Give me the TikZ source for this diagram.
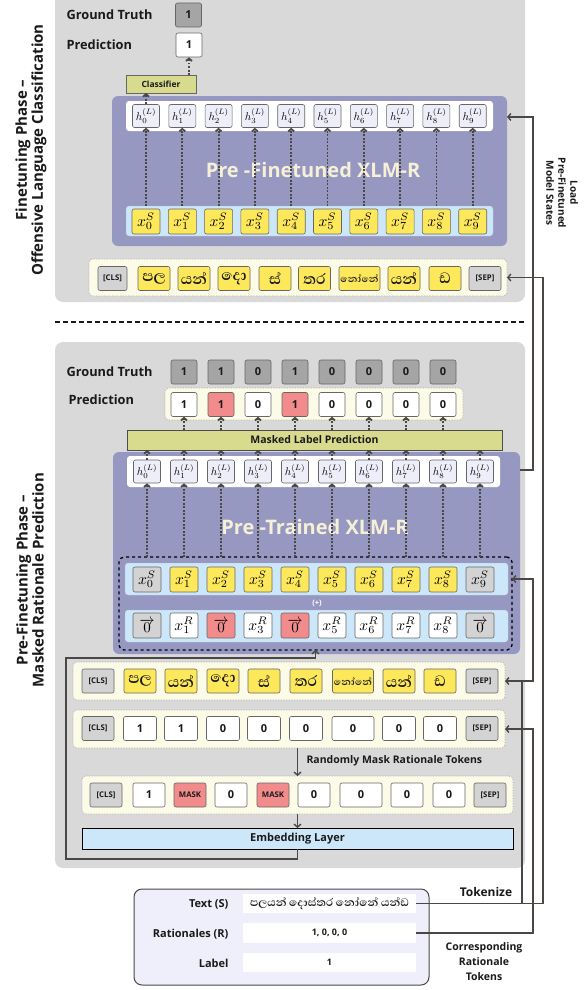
\documentclass[tikz,border=0pt]{standalone}
\usepackage{fontspec}
\setmainfont{Open Sans}
\newfontfamily\sinhalafont[Script=Sinhala]{Abhaya Libre}
\usetikzlibrary{arrows.meta,fit}

\definecolor{panel}{HTML}{D9D9D9}
\definecolor{xlmr}{HTML}{9698C2}
\definecolor{titletxt}{HTML}{F5F0D6}
\definecolor{hfill}{HTML}{EEEEFA}
\definecolor{embblue}{HTML}{CCE7F9}
\definecolor{tokyellow}{HTML}{FDE85C}
\definecolor{tokgray}{HTML}{D3D3D3}
\definecolor{tokred}{HTML}{F28C8C}
\definecolor{olive}{HTML}{D8DB8E}
\definecolor{cream}{HTML}{FCFBE7}
\definecolor{gtgray}{HTML}{A5A5A5}
\definecolor{wire}{HTML}{4A4744}
\definecolor{inputbg}{HTML}{EFEFFB}
\definecolor{ink}{HTML}{1A1A1A}

% hidden states, sentence embeddings and rationale embeddings
\newcommand\hstate[1]{\scalebox{1.12}{$h_{#1}^{(L)}$}}
\newcommand\xsent[1]{\scalebox{1.55}{$x_{#1}^{S}$}}
\newcommand\xrat[1]{\scalebox{1.55}{$x_{#1}^{R}$}}
\newcommand\zerovec{\scalebox{1.5}{$\overrightarrow{0}$}}

\tikzset{
  region/.style={inner sep=0pt, outer sep=0pt, fit={#1}},
  cell/.style={inner sep=0pt, rounded corners=2pt, draw=black!60, line width=0.6pt},
  tok/.style={cell, minimum width=32pt, minimum height=24pt, font=\bfseries\fontsize{11}{11}\selectfont, text=ink},
  spec/.style={tok, fill=tokgray, font=\bfseries\fontsize{7.8}{7.8}\selectfont},
  sin/.style={tok, fill=tokyellow, font=\sinhalafont\bfseries\fontsize{19}{19}\selectfont},
  sinwide/.style={sin, minimum width=41pt, font=\sinhalafont\bfseries\fontsize{12.5}{12.5}\selectfont},
  numtok/.style={tok, fill=white},
  masktok/.style={tok, fill=tokred, font=\bfseries\fontsize{7.8}{7.8}\selectfont},
  hid/.style={cell, fill=hfill, minimum width=27pt, minimum height=23pt, font=\fontsize{10}{10}\selectfont},
  emb/.style={cell, minimum width=28pt, minimum height=25pt, font=\fontsize{10}{10}\selectfont},
  tray/.style={inner sep=0pt, outer sep=0pt, fill=cream, draw=black!35, densely dotted, line width=0.6pt, rounded corners=4pt},
  band/.style={inner sep=0pt, outer sep=0pt, fill=embblue, draw=black!25, densely dotted, line width=0.5pt, rounded corners=3pt},
  head/.style={font=\bfseries\fontsize{12.8}{13}\selectfont, text=ink},
  fieldlab/.style={font=\bfseries\fontsize{11}{11}\selectfont, text=ink, anchor=east},
  boxtext/.style={font=\bfseries\fontsize{10.5}{11}\selectfont, text=ink},
  modeltitle/.style={font=\bfseries\fontsize{20}{20}\selectfont, text=titletxt},
  phase/.style={font=\bfseries\fontsize{15}{16}\selectfont, text=ink, align=center, rotate=90},
  wire/.style={draw=wire, line width=1.4pt},
  arr/.style={wire, -{Straight Barb[length=3pt,width=7pt]}},
  dotarr/.style={draw=wire, line width=1.8pt, dash pattern=on 1.8pt off 1.7pt, -{Straight Barb[length=2.5pt,width=6pt]}},
  note/.style={font=\bfseries\fontsize{10.5}{15}\selectfont, text=ink, align=center},
}

\begin{document}
\begin{tikzpicture}[x=1pt,y=-1pt]
\useasboundingbox (0,0) rectangle (584,990);
\fill[white] (0,0) rectangle (584,990);

% ================= Finetuning phase =================
\node[region={(55,-20) (525,302)}, fill=panel, rounded corners=8pt] (ftpanel) {};
\node[phase] (ftlabel) at (31,150) {Finetuning Phase –\\Offensive Language Classification};

\node[head, anchor=west] (gtlabA) at (63,15) {Ground Truth};
\node[tok, fill=gtgray, minimum width=26pt] (gtA) at (188.5,15) {1};
\node[head, anchor=west] (predlabA) at (63,45) {Prediction};
\node[tok, fill=white, minimum width=26pt] (predA) at (189,45) {1};
\node[region={(126,75) (196,93)}, fill=olive, draw=black!60, line width=0.6pt] (clf) {};
\node[font=\bfseries\fontsize{8.5}{9}\selectfont, text=ink] (clftext) at (clf.center) {Classifier};

\node[region={(112,96) (507,246)}, fill=xlmr, rounded corners=6pt] (xlmrA) {};
\node[region={(126,101) (493,131)}, fill=white, rounded corners=3pt] (hrowA) {};
\node[region={(126,206) (493,236)}, band] (xrowA) {};
\node[modeltitle] (titleA) at (313,170) {Pre -Finetuned XLM-R};
\foreach \i in {0,...,9}{
  \node[hid] (hA\i) at ({146+36.3*\i},116) {\hstate{\i}};
  \node[emb, fill=tokyellow] (xA\i) at ({146+36.3*\i},221.5) {\xsent{\i}};
  \draw[dotarr] (xrowA.north -| xA\i) -- (hA\i.south);
}
\draw[dotarr] (hA0.north) -- (clf.south -| hA0);
\draw[dotarr] (clf.north -| predA) -- (predA.south);

% tokenised sentence feeding the classifier
\node[region={(89,259) (507,296)}, tray] (sinrowA) {};
\node[spec, minimum width=29pt] (sA0) at (112.5,278.5) {[CLS]};
\node[sin] (sA1) at (154,278.5) {පල};
\node[sin] (sA2) at (194,278.5) {යන්};
\node[sin] (sA3) at (234,278.5) {දො};
\node[sin] (sA4) at (275,278.5) {ස්};
\node[sin] (sA5) at (314.5,278.5) {තර};
\node[sinwide] (sA6) at (359.5,278.5) {නෝනේ};
\node[sin] (sA7) at (404,278.5) {යන්};
\node[sin] (sA8) at (445,278.5) {ඩ};
\node[spec] (sA9) at (485,278.5) {[SEP]};

% phase separator
\coordinate (sepL) at (55,322);
\coordinate (sepR) at (525,322);
\draw[ink, line width=1.3pt, dash pattern=on 5pt off 3pt] (sepL) -- (sepR);

% ================= Pre-finetuning phase =================
\node[region={(55,342) (525,868)}, fill=panel, rounded corners=8pt] (pfpanel) {};
\node[phase] (pflabel) at (30,580) {Pre-Finetuning Phase –\\Masked Rationale Prediction};

\node[head, anchor=west] (gtlabB) at (63,372) {Ground Truth};
\foreach \v [count=\i from 0] in {1,1,0,1,0,0,0,0}
  \node[tok, fill=gtgray, minimum width=26pt] (gB\i) at ({184+37*\i},372) {\v};

\node[head, anchor=west] (predlabB) at (65,400) {Prediction};
\node[region={(165,388) (463,420)}, tray] (predrowB) {};
\foreach \v/\c [count=\i from 0] in {1/white,1/tokred,0/white,1/tokred,0/white,0/white,0/white,0/white}
  \node[tok, fill=\c, minimum width=26pt] (pB\i) at ({184+37*\i},404.5) {\v};

\node[region={(127,430) (502,450)}, fill=olive, draw=black!70, line width=0.6pt] (mlp) {};
\node[boxtext] (mlptext) at (mlp.center) {Masked Label Prediction};
\foreach \i in {0,...,7}
  \draw[dotarr] (mlp.north -| pB\i) -- (pB\i.south);

\node[region={(113,452) (520,654)}, fill=xlmr, rounded corners=6pt] (xlmrB) {};
\node[region={(127,456) (500,487)}, fill=white, rounded corners=3pt] (hrowB) {};
\node[modeltitle] (titleB) at (315,527) {Pre -Trained XLM-R};
\node[region={(119,557) (512,650)}, draw=black, dashed, line width=1.3pt, rounded corners=5pt] (dbox) {};
\node[region={(125,563) (508,595)}, band] (xSrowB) {};
\node[region={(125,610) (508,642)}, band] (xRrowB) {};
\node[font=\bfseries\fontsize{7.5}{8}\selectfont, text=white] (plus) at (317,603) {(+)};

\foreach \c [count=\i from 0] in {tokgray,tokyellow,tokyellow,tokyellow,tokyellow,tokyellow,tokyellow,tokyellow,tokyellow,tokgray}{
  \node[hid] (hB\i) at ({147+37*\i},471.5) {\hstate{\i}};
  \node[emb, fill=\c] (xB\i) at ({147+37*\i},579.5) {\xsent{\i}};
  \draw[dotarr] (dbox.north -| hB\i) -- (hB\i.south);
  \draw[dotarr] (hB\i.north) -- (mlp.south -| hB\i);
}
\node[emb, fill=tokgray] (rB0) at (147,625.5) {\zerovec};
\node[emb, fill=white]   (rB1) at (184,625.5) {\xrat{1}};
\node[emb, fill=tokred]  (rB2) at (221,625.5) {\zerovec};
\node[emb, fill=white]   (rB3) at (258,625.5) {\xrat{3}};
\node[emb, fill=tokred]  (rB4) at (295,625.5) {\zerovec};
\node[emb, fill=white]   (rB5) at (332,625.5) {\xrat{5}};
\node[emb, fill=white]   (rB6) at (369,625.5) {\xrat{6}};
\node[emb, fill=white]   (rB7) at (406,625.5) {\xrat{7}};
\node[emb, fill=white]   (rB8) at (443,625.5) {\xrat{8}};
\node[emb, fill=tokgray] (rB9) at (480,625.5) {\zerovec};

% tokenised sentence
\node[region={(73,662) (505,700)}, tray] (sinrowB) {};
\node[spec] (sB0) at (98,681) {[CLS]};
\node[sin] (sB1) at (140,681) {පල};
\node[sin] (sB2) at (181,681) {යන්};
\node[sin] (sB3) at (223,681) {දො};
\node[sin] (sB4) at (264,681) {ස්};
\node[sin] (sB5) at (306,681) {තර};
\node[sinwide] (sB6) at (353,681) {නෝනේ};
\node[sin] (sB7) at (399,681) {යන්};
\node[sin] (sB8) at (440,681) {ඩ};
\node[spec] (sB9) at (482,681) {[SEP]};

% rationale tokens
\node[region={(73,710) (505,748)}, tray] (ratrow) {};
\node[spec] (rt0) at (98,728.5) {[CLS]};
\foreach \v/\x/\w [count=\i] in {1/140/33,1/181/33,0/223/33,0/264/33,0/306/33,0/353/42,0/399/33,0/440/33}
  \node[numtok, minimum width=\w pt] (rt\i) at (\x,728.5) {\v};
\node[spec] (rt9) at (482,728.5) {[SEP]};

% masked rationale tokens
\node[region={(82,776) (513,814)}, tray] (maskrow) {};
\node[spec] (mk0) at (106,795) {[CLS]};
\node[numtok] (mk1) at (149,795) {1};
\node[masktok] (mk2) at (190,795) {MASK};
\node[numtok] (mk3) at (231,795) {0};
\node[masktok] (mk4) at (273,795) {MASK};
\node[numtok] (mk5) at (314,795) {0};
\node[numtok, minimum width=42pt] (mk6) at (361,795) {0};
\node[numtok] (mk7) at (407,795) {0};
\node[numtok] (mk8) at (449,795) {0};
\node[spec] (mk9) at (490,795) {[SEP]};

\node[region={(82,828) (513,849)}, fill=embblue, draw=black, line width=0.8pt] (emb) {};
\node[boxtext, font=\bfseries\fontsize{11}{11}\selectfont] (embtext) at (emb.center) {Embedding Layer};

\draw[arr] (ratrow.south -| emb.north) -- (maskrow.north -| emb.north);
\node[boxtext, anchor=west] (masklab) at (303,761) {Randomly Mask Rationale Tokens};
\draw[arr] (maskrow.south -| emb.north) -- (emb.north);

% embeddings looped back into the encoder input
\coordinate (loopA) at (66,859);
\coordinate (loopB) at (66,658);
\draw[arr] (emb.south) |- (loopA) -- (loopB) -| (dbox.south);

% ================= Input sample =================
\node[region={(134,889) (429,985)}, fill=inputbg, draw=wire, line width=1pt, rounded corners=8pt] (inbox) {};
\node[fieldlab] (txtlab) at (232,904) {Text (S)};
\node[fieldlab] (ratlab) at (232,934) {Rationales (R)};
\node[fieldlab] (lbllab) at (232,963) {Label};
\node[region={(243,894) (416,913)}, fill=white] (txtf) {};
\node[region={(243,923) (416,943)}, fill=white] (ratf) {};
\node[region={(243,953) (416,972)}, fill=white] (lblf) {};
\node[font=\sinhalafont\bfseries\fontsize{14}{14}\selectfont, text=ink] (txtftext) at (txtf.center) {පලයන් දොස්තර නෝනේ යන්ඩ};
\node[font=\bfseries\fontsize{9}{9}\selectfont, text=ink] (ratftext) at (ratf.center) {1, 0, 0, 0};
\node[font=\bfseries\fontsize{9}{9}\selectfont, text=ink] (lblftext) at (lblf.center) {1};

\node[font=\bfseries\fontsize{12}{12}\selectfont, text=ink] (toklab) at (486,892) {Tokenize};
\node[note] (corrlab) at (484,962) {Corresponding\\Rationale\\Tokens};

% right-hand connectors
\coordinate (jA) at (543,277.5);
\draw[arr] (txtf.east) -| (jA) -- (sinrowA.east);
\coordinate (jB) at (522,681);
\draw[arr] (jB |- txtf.east) -- (jB) -- (sinrowB.east);
\coordinate (jC) at (533,681);
\draw[arr] (jB) -- (jC) |- (dbox.east |- xSrowB.east);
\coordinate (jR) at (533,729);
\draw[arr] (ratf.east) -| (jR) -- (ratrow.east);

\coordinate (ldA) at (533,117);
\coordinate (ldB) at (533,470);
\draw[arr] (ldB -| xlmrB.east) -- (ldB) -- (ldA) -- (ldA -| xlmrA.east);
\node[font=\bfseries\fontsize{10}{12}\selectfont, text=ink, align=center, rotate=-90] (loadlab) at (562,193) {Load\\Pre-Finetuned\\Model States};

\end{tikzpicture}
\end{document}
